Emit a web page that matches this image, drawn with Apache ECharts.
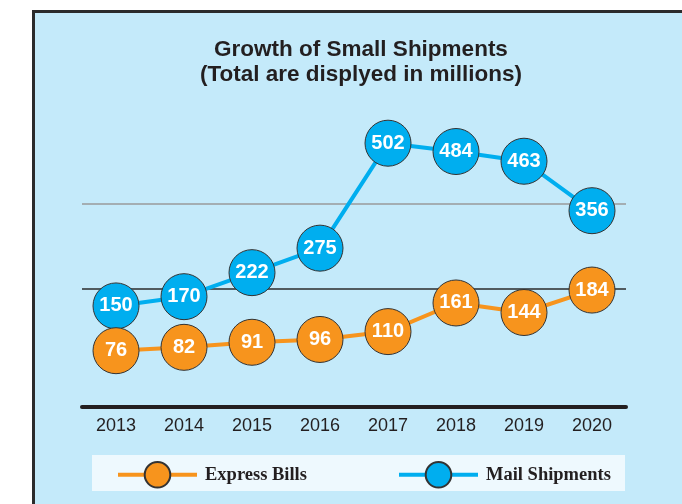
<!DOCTYPE html>
<html lang="en">
<head>
<meta charset="UTF-8">
<title>Growth of Small Shipments</title>
<style>
  html, body { margin: 0; padding: 0; background: #fff; }
  #main { width: 682px; height: 504px; }
</style>
</head>
<body>
<div id="main"></div>
<script src="https://cdn.jsdelivr.net/npm/echarts@6/dist/echarts.min.js"></script>
<script type="text/javascript">
var years = ['2013', '2014', '2015', '2016', '2017', '2018', '2019', '2020'];
var expressBills = [76, 82, 91, 96, 110, 161, 144, 184];
var mailShipments = [150, 170, 222, 275, 502, 484, 463, 356];

var myChart = echarts.init(document.getElementById('main'));

var labelStyle = {
  show: true,
  position: 'inside',
  color: '#fff',
  fontWeight: 'bold',
  fontSize: 20,
  fontFamily: 'Liberation Sans, Arial, sans-serif'
};

var legendText = {
  color: '#231f20',
  fontSize: 18.5,
  fontWeight: 'bold',
  fontFamily: 'Liberation Serif, Times New Roman, serif',
  padding: [0, 0, 0, 3]
};

myChart.setOption({
  animation: false,
  title: {
    text: 'Growth of Small Shipments\n(Total are displyed in millions)',
    left: 356,
    top: 32,
    textAlign: 'center',
    textStyle: {
      color: '#231f20',
      fontSize: 22.5,
      lineHeight: 25,
      fontWeight: 'bold',
      fontFamily: 'Liberation Sans, Arial, sans-serif'
    }
  },
  graphic: [
    {
      type: 'rect',
      z: 0,
      silent: true,
      shape: { x: 33.5, y: 11.5, width: 700, height: 600 },
      style: { fill: '#c4eafa', stroke: '#2b2b2b', lineWidth: 3 }
    },
    {
      type: 'rect',
      z: 1,
      silent: true,
      shape: { x: 92, y: 455, width: 533, height: 36 },
      style: { fill: '#eef9fe' }
    }
  ],
  legend: [
    {
      data: ['Express Bills'],
      left: 111,
      top: 456,
      itemWidth: 79,
      itemHeight: 32,
      lineStyle: { width: 4 },
      textStyle: legendText
    },
    {
      data: ['Mail Shipments'],
      left: 392,
      top: 456,
      itemWidth: 79,
      itemHeight: 32,
      lineStyle: { width: 4 },
      textStyle: legendText
    }
  ],
  grid: { left: 82, right: 56, top: 40, bottom: 97 },
  xAxis: {
    type: 'category',
    data: years,
    boundaryGap: true,
    axisTick: { show: false },
    axisLine: { onZero: false, lineStyle: { color: '#231f20', width: 4 } },
    axisLabel: {
      margin: 10,
      color: '#231f20',
      fontSize: 18,
      fontFamily: 'Liberation Sans, Arial, sans-serif'
    }
  },
  yAxis: [
    { type: 'value', show: false, min: -68.6, max: 725.2 },
    { type: 'value', show: false, min: -24.3, max: 629.4 }
  ],
  series: [
    {
      // reference lines only
      name: 'ref',
      type: 'line',
      yAxisIndex: 1,
      data: [],
      z: 1,
      markLine: {
        z: 1,
        silent: true,
        symbol: 'none',
        label: { show: false },
        data: [
          { yAxis: 185.9, lineStyle: { color: '#2b2b2b', width: 1.5, type: 'solid' } },
          { yAxis: 337.3, lineStyle: { color: '#9a9a9a', width: 1.5, type: 'solid' } }
        ]
      }
    },
    {
      name: 'Mail Shipments',
      type: 'line',
      yAxisIndex: 0,
      z: 2,
      data: mailShipments,
      symbol: 'circle',
      symbolSize: 46,
      lineStyle: { color: '#00aeef', width: 4 },
      itemStyle: { color: '#00aeef', borderColor: '#333', borderWidth: 1 },
      label: labelStyle
    },
    {
      name: 'Express Bills',
      type: 'line',
      yAxisIndex: 1,
      z: 3,
      data: expressBills,
      symbol: 'circle',
      symbolSize: 46,
      lineStyle: { color: '#f7941d', width: 4 },
      itemStyle: { color: '#f7941d', borderColor: '#333', borderWidth: 1 },
      label: labelStyle
    }
  ]
});
</script>
</body>
</html>
